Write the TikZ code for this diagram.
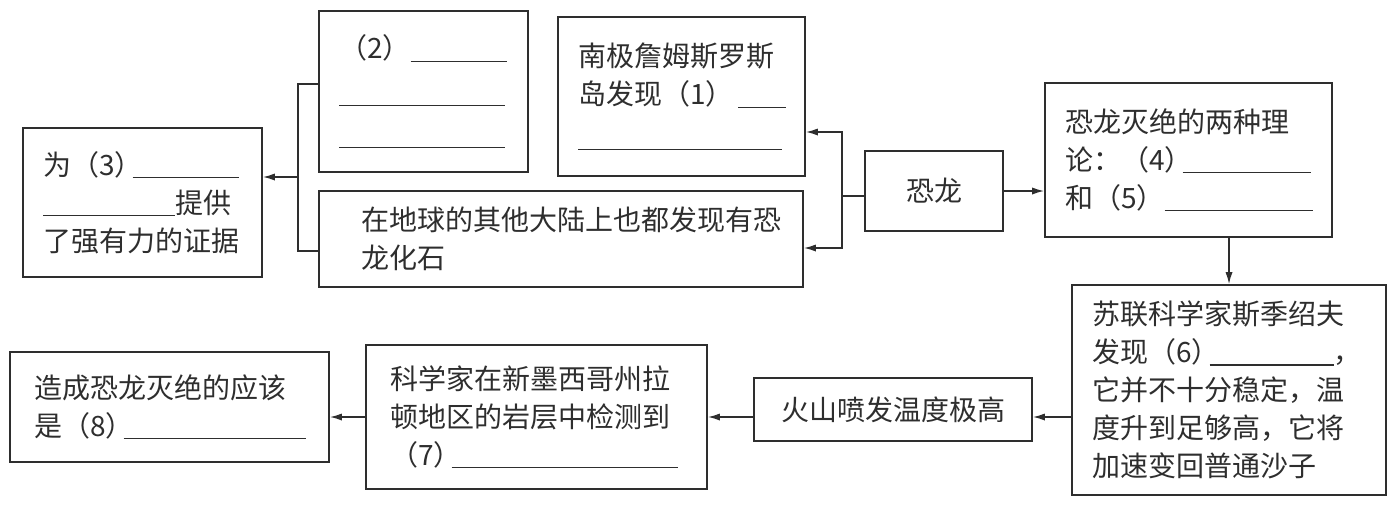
\documentclass[tikz,border=0pt]{standalone}
\usepackage{fontspec}
\newfontfamily\cjk{Noto Sans CJK SC}
\usetikzlibrary{arrows.meta}
\definecolor{ink}{gray}{0.18}
\newcommand{\ansline}[1]{\rule[-1.5pt]{#1}{0.6pt}}
\newcommand{\ansafter}[1]{\kern-5pt\ansline{#1}}

\begin{document}
\begin{tikzpicture}[x=0.5pt,y=-0.5pt,
  every node/.style={font=\cjk\fontsize{14}{19}\selectfont, text=ink},
  box/.style={draw=ink, line width=0.9pt, align=left, inner xsep=10pt, inner ysep=0pt},
  link/.style={draw=ink, line width=0.7pt},
  arr/.style={link, -{Latex[length=6pt,width=3.6pt]}}]
\useasboundingbox (0,0) rectangle (1395,505);

% upper row
\node[box, text width=99.5pt, minimum height=74.5pt] (b3) at (142.5,202.5)
  {为（3）\ansafter{53pt}\\ \ansline{66pt}提供\\ 了强有力的证据};
\node[box, text width=84.5pt, minimum height=80.5pt] (b2) at (423.5,91.5)
  {（2）\ansline{48pt}\\[3pt] \ansline{83pt}\\[2pt] \ansline{83pt}};
\node[box, inner xsep=21pt, text width=200pt, minimum height=48pt] (bfos) at (561,239)
  {在地球的其他大陆上也都发现有恐\\ 龙化石};
\node[box, text width=103.5pt, minimum height=79.5pt] (b1) at (681.5,96.5)
  {南极詹姆斯罗斯\\ 岛发现（1）\,\ansline{24pt}\\[2pt] \ansline{102pt}};
\node[box, minimum width=69pt, minimum height=40pt] (dino) at (934,191) {恐龙};
\node[box, text width=123.5pt, minimum height=77pt] (b45) at (1188.5,160)
  {恐龙灭绝的两种理\\ 论：（4）\ansafter{64pt}\\ 和（5）\ansline{74pt}};

% lower row
\node[box, text width=137pt, minimum height=105pt] (b6) at (1229,390)
  {苏联科学家斯季绍夫\\ 发现（6）\ansafter{62pt}，\\ 它并不十分稳定，温\\ 度升到足够高，它将\\ 加速变回普通沙子};
\node[box, minimum width=139pt, minimum height=31.5pt] (volc) at (893,409.5) {火山喷发温度极高};
\node[box, inner xsep=12pt, text width=146.5pt, minimum height=72pt] (b7) at (536.5,417)
  {科学家在新墨西哥州拉\\ 顿地区的岩层中检测到\\ （7）\ansafter{113pt}};
\node[box, inner xsep=12pt, text width=135.5pt, minimum height=55pt] (b8) at (169.5,407)
  {造成恐龙灭绝的应该\\ 是（8）\ansafter{91pt}};

% brackets
\coordinate (lt) at (298,84);
\coordinate (lm) at (298,177);
\coordinate (lb) at (298,251);
\draw[link] (b2.west |- lt) -| (lb) -- (bfos.west |- lb);
\draw[arr] (lm) -- (b3.east |- lm);

\coordinate (rt) at (842,132);
\coordinate (rm) at (842,196);
\coordinate (rb) at (842,248);
\draw[link] (dino.west |- rm) -- (rm);
\draw[arr] (rm) |- (b1.east |- rt);
\draw[arr] (rm) |- (bfos.east |- rb);

\draw[arr] (dino.east) -- (b45.west |- dino);
\draw[arr] (b45.south -| b6.north) -- (b6.north);
\foreach \a/\b in {b6/volc, volc/b7, b7/b8}
  \draw[arr] (\a.west |- b7) -- (\b.east |- b7);
\end{tikzpicture}
\end{document}
